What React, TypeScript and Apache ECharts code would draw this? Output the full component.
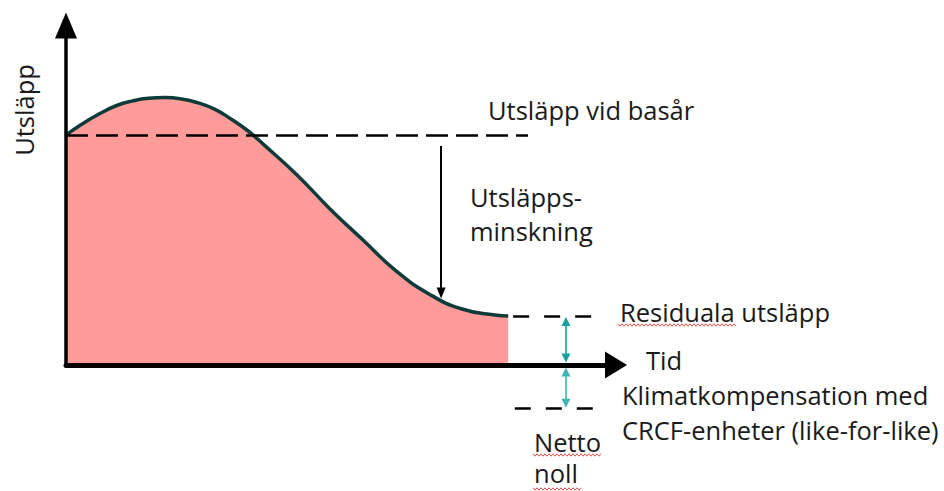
import React, { useEffect, useRef } from "react";
import * as echarts from "echarts";

// Emission curve (time 0-100, emissions in relative units)
const curveTime = [0, 3, 6, 9, 12, 15, 18, 21, 24, 27, 30, 33, 36, 42, 48, 54, 60, 66, 72, 78, 80.4];
const curveEmission = [65.7, 68.9, 71.7, 74.0, 75.4, 76.2, 76.4, 76.0, 74.9, 73.1, 70.3, 67.0, 62.9, 54.3, 44.6, 35.7, 26.9, 20.3, 16.0, 14.3, 14.0];

// Reference levels
const baseYearLevel = 65.7;
const baseYearLineEnd = 84;
const residualLevel = 14.0;
const residualDash = [81.3, 97.1];
const nettoLevel = -12.3;
const nettoDash = [81.6, 97.1];

// Arrows
const reductionArrowTime = 68.2;
const reductionArrowRange = [62.6, 20.6];
const offsetArrowTime = 90.9;
const upperArrowRange = [12.4, 2.0];
const lowerArrowRange = [-2.0, -10.9];
const yAxisArrowTop = 97;

// Texts
const yAxisTitle = "Utsläpp";
const xAxisTitle = "Tid";
const baseYearText = "Utsläpp vid basår";
const reductionText = ["Utsläpps-", "minskning"];
const residualText = "Residuala utsläpp";
const compensationText = ["Klimatkompensation med", "CRCF-enheter (like-for-like)"];
const nettoText = ["Netto", "noll"];

const FONT = "'Open Sans'";

function wave(x0: number, x1: number, y: number) {
  const pts: number[][] = [];
  let i = 0;
  for (let x = x0; x <= x1; x += 2, i++) pts.push([x, y + (i % 2 ? 1.2 : -1.2)]);
  return pts;
}

function txt(text: string, x: number, y: number, extra: any = {}) {
  return {
    type: "text",
    x,
    y,
    ...extra,
    style: {
      text,
      fill: "#1a1a1a",
      font: `25.5px ${FONT}`,
      align: "left",
      verticalAlign: "middle",
      ...(extra.style || {}),
    },
  };
}

function markSeries(name: string, data: any[], lineStyle: any) {
  return {
    name,
    type: "line",
    data: [],
    clip: false,
    silent: true,
    markLine: {
      silent: true,
      animation: false,
      symbol: "none",
      label: { show: false },
      emphasis: { disabled: true },
      lineStyle,
      data,
    },
  };
}

export default function App() {
  const ref = useRef<HTMLDivElement>(null);
  useEffect(() => {
    if (!ref.current) return;
    const chart = echarts.init(ref.current, null, { renderer: "svg" });
    const tri = (w: number, h: number) => ({ symbol: "triangle", symbolSize: [w, h] });
    chart.setOption({
      animation: false,
      backgroundColor: "#fff",
      grid: { left: 66, right: 328, top: 1, bottom: 3.5 },
      xAxis: {
        type: "value",
        min: 0,
        max: 100,
        z: 10,
        axisLine: {
          show: true,
          onZero: true,
          symbol: ["none", "triangle"],
          symbolSize: [27, 22],
          lineStyle: { color: "#000", width: 5 },
        },
        axisTick: { show: false },
        axisLabel: { show: false },
        splitLine: { show: false },
      },
      yAxis: {
        type: "value",
        min: -35,
        max: 104,
        axisLine: { show: false },
        axisTick: { show: false },
        axisLabel: { show: false },
        splitLine: { show: false },
      },
      series: [
        {
          name: "Utsläpp",
          type: "line",
          data: curveTime.map((t, i) => [t, curveEmission[i]]),
          smooth: 0.5,
          symbol: "none",
          silent: true,
          lineStyle: { color: "#0f3a3a", width: 3.5 },
          areaStyle: { color: "#ff9c99", opacity: 1 },
          z: 2,
        },
        markSeries(
          "yaxis",
          [[{ coord: [0, 0] }, { coord: [0, yAxisArrowTop], ...tri(22, 26) }]],
          { color: "#000", width: 3.5, type: "solid" }
        ),
        markSeries(
          "basår",
          [[{ coord: [0, baseYearLevel] }, { coord: [baseYearLineEnd, baseYearLevel] }]],
          { color: "#000", width: 2.5, type: [22, 8] }
        ),
        markSeries(
          "residual",
          [
            [{ coord: [residualDash[0], residualLevel] }, { coord: [residualDash[1], residualLevel] }],
            [{ coord: [nettoDash[0], nettoLevel] }, { coord: [nettoDash[1], nettoLevel] }],
          ],
          { color: "#000", width: 2.5, type: [16, 15] }
        ),
        markSeries(
          "minskning",
          [[
            { coord: [reductionArrowTime, reductionArrowRange[0]] },
            { coord: [reductionArrowTime, reductionArrowRange[1]], ...tri(9, 11) },
          ]],
          { color: "#000", width: 2, type: "solid" }
        ),
        markSeries(
          "upper",
          [[
            { coord: [offsetArrowTime, upperArrowRange[0]], ...tri(9, 9) },
            { coord: [offsetArrowTime, upperArrowRange[1]], ...tri(9, 9) },
          ]],
          { color: "#17a0a0", width: 1.6, type: "solid" }
        ),
        markSeries(
          "lower",
          [[
            { coord: [offsetArrowTime, lowerArrowRange[0]], ...tri(9, 9) },
            { coord: [offsetArrowTime, lowerArrowRange[1]], ...tri(9, 9) },
          ]],
          { color: "#3fb5b5", width: 1.6, type: "solid" }
        ),
      ],
      graphic: [
        txt(yAxisTitle, 24, 110, { rotation: Math.PI / 2, style: { align: "center" } }),
        txt(baseYearText, 488, 110),
        txt(reductionText[0], 470, 197),
        txt(reductionText[1], 470, 231),
        txt(residualText, 620, 312),
        txt(xAxisTitle, 646, 360),
        txt(compensationText[0], 622, 395),
        txt(compensationText[1], 622, 430),
        txt(nettoText[0], 534, 442),
        txt(nettoText[1], 534, 473),
        { type: "polyline", shape: { points: wave(618, 737, 325) }, style: { stroke: "#e8504b", lineWidth: 1, fill: null } },
        { type: "polyline", shape: { points: wave(533, 602, 455) }, style: { stroke: "#e8504b", lineWidth: 1, fill: null } },
        { type: "polyline", shape: { points: wave(533, 582, 489) }, style: { stroke: "#e8504b", lineWidth: 1, fill: null } },
      ],
    });
    return () => chart.dispose();
  }, []);
  return (
    <div
      ref={ref}
      style={{ position: "fixed", left: 0, top: 0, width: 944, height: 491, background: "#fff" }}
    />
  );
}
